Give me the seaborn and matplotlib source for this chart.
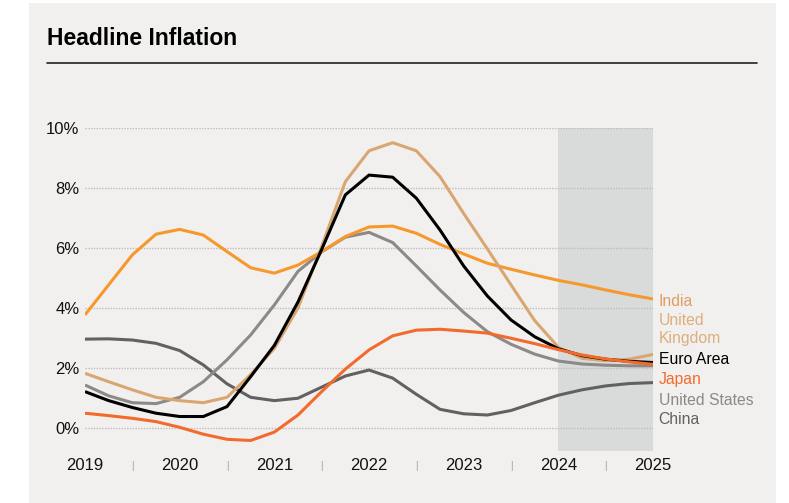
import numpy as np
import pandas as pd
import matplotlib.pyplot as plt
import seaborn as sns
from matplotlib.patches import Rectangle
from matplotlib.lines import Line2D

# quarterly readings (%)
quarters = [2019.0, 2019.25, 2019.5, 2019.75, 2020.0, 2020.25, 2020.5, 2020.75,
            2021.0, 2021.25, 2021.5, 2021.75, 2022.0, 2022.25, 2022.5, 2022.75,
            2023.0, 2023.25, 2023.5, 2023.75, 2024.0, 2024.25, 2024.5, 2024.75, 2025.0]

india = [3.77, 4.77, 5.77, 6.46, 6.62, 6.43, 5.88, 5.34, 5.16, 5.43, 5.88, 6.38, 6.70,
         6.73, 6.49, 6.12, 5.80, 5.49, 5.29, 5.10, 4.92, 4.77, 4.60, 4.44, 4.30]
uk = [1.82, 1.54, 1.27, 1.02, 0.91, 0.84, 1.02, 1.78, 2.65, 4.00, 6.05, 8.21, 9.24,
      9.51, 9.24, 8.38, 7.15, 5.97, 4.77, 3.58, 2.69, 2.32, 2.24, 2.29, 2.45]
euro = [1.21, 0.91, 0.68, 0.49, 0.38, 0.38, 0.71, 1.71, 2.75, 4.20, 5.95, 7.77, 8.43,
        8.36, 7.66, 6.60, 5.40, 4.40, 3.60, 3.04, 2.64, 2.41, 2.29, 2.22, 2.18]
japan = [0.49, 0.41, 0.32, 0.21, 0.02, -0.21, -0.38, -0.42, -0.14, 0.43, 1.21, 1.96, 2.60,
         3.07, 3.26, 3.29, 3.23, 3.16, 2.99, 2.81, 2.61, 2.43, 2.30, 2.20, 2.12]
us = [1.43, 1.07, 0.84, 0.81, 1.02, 1.54, 2.27, 3.10, 4.10, 5.22, 5.87, 6.36, 6.52,
      6.18, 5.40, 4.60, 3.85, 3.21, 2.79, 2.46, 2.23, 2.13, 2.09, 2.07, 2.07]
china = [2.96, 2.97, 2.93, 2.82, 2.58, 2.10, 1.47, 1.02, 0.91, 0.99, 1.36, 1.73, 1.93,
         1.66, 1.12, 0.62, 0.47, 0.43, 0.58, 0.84, 1.09, 1.27, 1.40, 1.48, 1.51]

years = [2019, 2020, 2021, 2022, 2023, 2024, 2025]
yticks = [0, 2, 4, 6, 8, 10]

series = {'China': china, 'United States': us, 'India': india,
          'United Kingdom': uk, 'Euro Area': euro, 'Japan': japan}
line_colors = {'India': '#F7982C', 'United Kingdom': '#D9A671', 'Euro Area': '#000000',
               'Japan': '#F26B2C', 'United States': '#8C8988', 'China': '#626161'}

rows = []
for name, vals in series.items():
    for q, v in zip(quarters, vals):
        rows.append({'year': q, 'value': v, 'country': name})
df = pd.DataFrame(rows)

sns.set_style("white")
plt.rcParams['font.family'] = ['Liberation Sans', 'DejaVu Sans']

fig = plt.figure(figsize=(7.89, 5.03), dpi=100, facecolor='white')
fig.patches.append(Rectangle((29 / 789, 0), 747 / 789, 500 / 503, transform=fig.transFigure,
                             facecolor='#F1F0EE', edgecolor='none', zorder=-10))

ax = fig.add_axes([85 / 789, 52 / 503, 568 / 789, 323 / 503])
ax.patch.set_alpha(0)

ax.axvspan(2024, 2025, color='#D9DADA', zorder=0.3, lw=0)

sns.lineplot(data=df, x='year', y='value', hue='country', hue_order=list(series.keys()),
             palette=line_colors, linewidth=2.2, legend=False, ax=ax,
             solid_joinstyle='round', solid_capstyle='butt')

ax.set_xlim(2019, 2025)
ax.set_ylim(-0.77, 10)
ax.set_axisbelow(True)
ax.yaxis.grid(True, linestyle=(0, (1, 1)), color='#BDBDBD', linewidth=1)
ax.xaxis.grid(False)
for s in ax.spines.values():
    s.set_visible(False)

ax.set_yticks(yticks)
ax.set_yticklabels([f'{v}%' for v in yticks])
ax.set_xticks(years)
ax.set_xticklabels([str(y) for y in years])
ax.set_xticks([y + 0.5 for y in years[:-1]], minor=True)
ax.set_xticklabels(['|'] * (len(years) - 1), minor=True)
ax.tick_params(axis='both', which='major', length=0, labelsize=12, colors='#111111')
ax.tick_params(axis='y', pad=4)
ax.tick_params(axis='x', which='major', pad=5)
ax.tick_params(axis='x', which='minor', length=0, pad=7, labelsize=7, labelcolor='#9A9A9A')
ax.set_xlabel('')
ax.set_ylabel('')

# end labels
label_names = ['India', 'United\nKingdom', 'Euro Area', 'Japan', 'United States', 'China']
label_y = [4.22, 3.27, 2.27, 1.6, 0.93, 0.27]
label_colors = ['#DE9E60', '#DDAE7E', '#000000', '#F26B2C', '#8C8988', '#626161']
for txt, yv, c in zip(label_names, label_y, label_colors):
    ax.annotate(txt, xy=(2025, yv), xytext=(4, 0), textcoords='offset points',
                va='center', ha='left', fontsize=11.3, color=c, linespacing=1.25,
                annotation_clip=False)

fig.text(47 / 789, 1 - 45 / 503, 'Headline Inflation', fontsize=16.5, fontweight='bold',
         va='baseline', ha='left', color='#000000')
fig.lines.append(Line2D([47 / 789, 757 / 789], [1 - 62.7 / 503] * 2, transform=fig.transFigure,
                        color='#222222', linewidth=1.2))

fig.savefig('out.png', dpi=100, facecolor='white')
